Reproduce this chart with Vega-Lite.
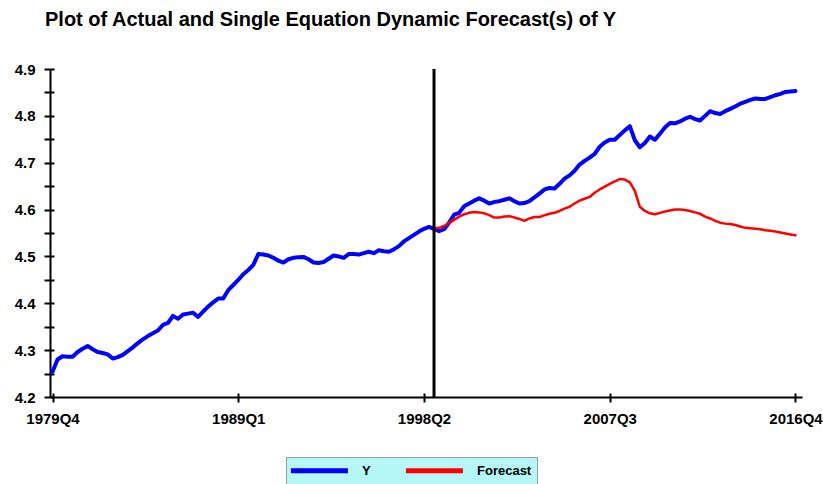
{
  "$schema": "https://vega.github.io/schema/vega-lite/v6.json",
  "width": 752,
  "height": 328,
  "autosize": {"type": "none"},
  "padding": {"left": 50, "top": 69, "right": 21, "bottom": 87},
  "background": "white",
  "config": {"view": {"stroke": null}, "font": "Liberation Sans"},
  "title": {
    "text": "Plot of Actual and Single Equation Dynamic Forecast(s) of Y",
    "anchor": "start",
    "frame": "group",
    "fontSize": 20,
    "fontWeight": "bold",
    "color": "black",
    "font": "Liberation Sans",
    "dx": -5,
    "offset": 32
  },
  "datasets": {
    "actual": [
      {"t":0,"v":4.254},{"t":1,"v":4.280},{"t":2,"v":4.287},{"t":3,"v":4.286},{"t":4,"v":4.286},{"t":5,"v":4.296},{"t":6,"v":4.303},{"t":7,"v":4.309},{"t":8,"v":4.302},{"t":9,"v":4.296},
      {"t":10,"v":4.294},{"t":11,"v":4.291},{"t":12,"v":4.282},{"t":13,"v":4.285},{"t":14,"v":4.290},{"t":15,"v":4.298},{"t":16,"v":4.306},{"t":17,"v":4.315},{"t":18,"v":4.323},{"t":19,"v":4.330},
      {"t":20,"v":4.336},{"t":21,"v":4.342},{"t":22,"v":4.354},{"t":23,"v":4.358},{"t":24,"v":4.373},{"t":25,"v":4.367},{"t":26,"v":4.376},{"t":27,"v":4.378},{"t":28,"v":4.380},{"t":29,"v":4.371},
      {"t":30,"v":4.382},{"t":31,"v":4.393},{"t":32,"v":4.402},{"t":33,"v":4.410},{"t":34,"v":4.410},{"t":35,"v":4.428},{"t":36,"v":4.439},{"t":37,"v":4.450},{"t":38,"v":4.462},{"t":39,"v":4.471},
      {"t":40,"v":4.482},{"t":41,"v":4.505},{"t":42,"v":4.504},{"t":43,"v":4.502},{"t":44,"v":4.497},{"t":45,"v":4.491},{"t":46,"v":4.487},{"t":47,"v":4.494},{"t":48,"v":4.497},{"t":49,"v":4.498},
      {"t":50,"v":4.499},{"t":51,"v":4.494},{"t":52,"v":4.487},{"t":53,"v":4.486},{"t":54,"v":4.488},{"t":55,"v":4.495},{"t":56,"v":4.502},{"t":57,"v":4.500},{"t":58,"v":4.497},{"t":59,"v":4.505},
      {"t":60,"v":4.505},{"t":61,"v":4.504},{"t":62,"v":4.507},{"t":63,"v":4.510},{"t":64,"v":4.507},{"t":65,"v":4.513},{"t":66,"v":4.511},{"t":67,"v":4.510},{"t":68,"v":4.515},{"t":69,"v":4.522},
      {"t":70,"v":4.532},{"t":71,"v":4.539},{"t":72,"v":4.546},{"t":73,"v":4.553},{"t":74,"v":4.559},{"t":75,"v":4.563},{"t":76,"v":4.559},{"t":77,"v":4.554},{"t":78,"v":4.558},{"t":79,"v":4.572},
      {"t":80,"v":4.589},{"t":81,"v":4.593},{"t":82,"v":4.607},{"t":83,"v":4.613},{"t":84,"v":4.619},{"t":85,"v":4.624},{"t":86,"v":4.619},{"t":87,"v":4.613},{"t":88,"v":4.616},{"t":89,"v":4.618},
      {"t":90,"v":4.621},{"t":91,"v":4.624},{"t":92,"v":4.618},{"t":93,"v":4.613},{"t":94,"v":4.614},{"t":95,"v":4.618},{"t":96,"v":4.626},{"t":97,"v":4.634},{"t":98,"v":4.643},{"t":99,"v":4.646},
      {"t":100,"v":4.645},{"t":101,"v":4.655},{"t":102,"v":4.666},{"t":103,"v":4.673},{"t":104,"v":4.683},{"t":105,"v":4.696},{"t":106,"v":4.704},{"t":107,"v":4.711},{"t":108,"v":4.719},{"t":109,"v":4.734},
      {"t":110,"v":4.743},{"t":111,"v":4.749},{"t":112,"v":4.749},{"t":113,"v":4.759},{"t":114,"v":4.769},{"t":115,"v":4.778},{"t":116,"v":4.748},{"t":117,"v":4.733},{"t":118,"v":4.742},{"t":119,"v":4.756},
      {"t":120,"v":4.749},{"t":121,"v":4.762},{"t":122,"v":4.775},{"t":123,"v":4.785},{"t":124,"v":4.784},{"t":125,"v":4.788},{"t":126,"v":4.794},{"t":127,"v":4.798},{"t":128,"v":4.793},{"t":129,"v":4.790},
      {"t":130,"v":4.800},{"t":131,"v":4.810},{"t":132,"v":4.806},{"t":133,"v":4.804},{"t":134,"v":4.810},{"t":135,"v":4.815},{"t":136,"v":4.820},{"t":137,"v":4.826},{"t":138,"v":4.830},{"t":139,"v":4.834},
      {"t":140,"v":4.837},{"t":141,"v":4.836},{"t":142,"v":4.836},{"t":143,"v":4.840},{"t":144,"v":4.844},{"t":145,"v":4.847},{"t":146,"v":4.851},{"t":147,"v":4.852},{"t":148,"v":4.853}
    ],
    "forecast": [
      {"t":76,"v":4.560},{"t":77,"v":4.561},{"t":78,"v":4.565},{"t":79,"v":4.571},
      {"t":80,"v":4.578},{"t":81,"v":4.585},{"t":82,"v":4.590},{"t":83,"v":4.593},{"t":84,"v":4.595},{"t":85,"v":4.594},{"t":86,"v":4.592},{"t":87,"v":4.588},{"t":88,"v":4.583},{"t":89,"v":4.583},
      {"t":90,"v":4.585},{"t":91,"v":4.586},{"t":92,"v":4.583},{"t":93,"v":4.580},{"t":94,"v":4.576},{"t":95,"v":4.581},{"t":96,"v":4.584},{"t":97,"v":4.584},{"t":98,"v":4.588},{"t":99,"v":4.591},
      {"t":100,"v":4.593},{"t":101,"v":4.597},{"t":102,"v":4.602},{"t":103,"v":4.606},{"t":104,"v":4.613},{"t":105,"v":4.619},{"t":106,"v":4.623},{"t":107,"v":4.627},{"t":108,"v":4.636},{"t":109,"v":4.643},
      {"t":110,"v":4.649},{"t":111,"v":4.655},{"t":112,"v":4.660},{"t":113,"v":4.665},{"t":114,"v":4.664},{"t":115,"v":4.658},{"t":116,"v":4.640},{"t":117,"v":4.606},{"t":118,"v":4.597},{"t":119,"v":4.592},
      {"t":120,"v":4.590},{"t":121,"v":4.593},{"t":122,"v":4.596},{"t":123,"v":4.598},{"t":124,"v":4.600},{"t":125,"v":4.600},{"t":126,"v":4.599},{"t":127,"v":4.597},{"t":128,"v":4.594},{"t":129,"v":4.591},
      {"t":130,"v":4.585},{"t":131,"v":4.581},{"t":132,"v":4.576},{"t":133,"v":4.572},{"t":134,"v":4.570},{"t":135,"v":4.569},{"t":136,"v":4.567},{"t":137,"v":4.564},{"t":138,"v":4.561},{"t":139,"v":4.560},
      {"t":140,"v":4.559},{"t":141,"v":4.558},{"t":142,"v":4.556},{"t":143,"v":4.555},{"t":144,"v":4.553},{"t":145,"v":4.551},{"t":146,"v":4.549},{"t":147,"v":4.547},{"t":148,"v":4.545}
    ],
    "split": [{"t": 76}]
  },
  "layer": [
    {
      "data": {"name": "actual"},
      "mark": {"type": "line", "strokeWidth": 4, "strokeJoin": "round", "strokeCap": "round"},
      "encoding": {
        "x": {
          "field": "t", "type": "quantitative",
          "scale": {"domain": [-0.5, 149.3], "nice": false, "zero": false},
          "axis": {
            "orient": "bottom", "title": null, "grid": false,
            "values": [0, 37, 74, 111, 148],
            "labelExpr": "(floor((datum.value + 3) / 4) + 1979) + 'Q' + ((datum.value + 3) % 4 + 1)",
            "domainColor": "black", "domainWidth": 2,
            "tickColor": "black", "tickWidth": 2, "tickSize": 5,
            "labelFont": "Liberation Sans", "labelFontSize": 15, "labelFontWeight": "bold", "labelColor": "black",
            "labelPadding": 9, "labelFlush": false, "labelOverlap": false
          }
        },
        "y": {
          "field": "v", "type": "quantitative",
          "scale": {"domain": [4.2, 4.9], "nice": false, "zero": false},
          "axis": {
            "orient": "left", "title": null, "grid": false,
            "values": [4.2, 4.25, 4.3, 4.35, 4.4, 4.45, 4.5, 4.55, 4.6, 4.65, 4.7, 4.75, 4.8, 4.85, 4.9],
            "labelExpr": "round(datum.value * 100) % 10 == 0 ? format(datum.value, '.1f') : ''",
            "domainColor": "black", "domainWidth": 2,
            "tickColor": "black", "tickWidth": 2, "tickSize": 6,
            "labelFont": "Liberation Sans", "labelFontSize": 15, "labelFontWeight": "bold", "labelColor": "black",
            "labelPadding": 9, "labelOverlap": false
          }
        },
        "color": {
          "datum": "Y",
          "scale": {"domain": ["Y", "Forecast"], "range": ["#0000ff", "#ff0000"]},
          "legend": {
            "orient": "none", "legendX": 236, "legendY": 388,
            "direction": "horizontal", "title": null,
            "fillColor": "#b5f7f7", "strokeColor": "#9a9a9a", "padding": 5,
            "symbolType": "M-1.5,0L8.5,0", "symbolSize": 130, "symbolStrokeWidth": 5,
            "labelFont": "Liberation Sans", "labelFontSize": 13, "labelFontWeight": "bold", "labelColor": "black",
            "labelOffset": 54, "columnPadding": 24
          }
        }
      }
    },
    {
      "data": {"name": "forecast"},
      "mark": {"type": "line", "strokeWidth": 2.5, "strokeJoin": "round", "strokeCap": "round"},
      "encoding": {
        "x": {"field": "t", "type": "quantitative", "scale": {"domain": [-0.5, 149.3], "nice": false, "zero": false}, "axis": null},
        "y": {"field": "v", "type": "quantitative", "scale": {"domain": [4.2, 4.9], "nice": false, "zero": false}, "axis": null},
        "color": {"datum": "Forecast"}
      }
    },
    {
      "data": {"name": "split"},
      "mark": {"type": "rule", "color": "black", "strokeWidth": 3},
      "encoding": {
        "x": {
          "field": "t", "type": "quantitative",
          "scale": {"domain": [-0.5, 149.3], "nice": false, "zero": false},
          "axis": {
            "orient": "bottom", "title": null, "grid": false, "labels": false, "domain": false,
            "values": [0, 37, 74, 111, 148],
            "tickColor": "black", "tickWidth": 2, "tickSize": -4
          }
        },
        "y": {
          "datum": 4.2, "type": "quantitative",
          "scale": {"domain": [4.2, 4.9], "nice": false, "zero": false},
          "axis": {
            "orient": "left", "title": null, "grid": false, "labels": false, "domain": false,
            "values": [4.2, 4.25, 4.3, 4.35, 4.4, 4.45, 4.5, 4.55, 4.6, 4.65, 4.7, 4.75, 4.8, 4.85, 4.9],
            "tickColor": "black", "tickWidth": 2, "tickSize": -4
          }
        },
        "y2": {"datum": 4.9}
      }
    }
  ],
  "resolve": {"axis": {"x": "independent", "y": "independent"}}
}
